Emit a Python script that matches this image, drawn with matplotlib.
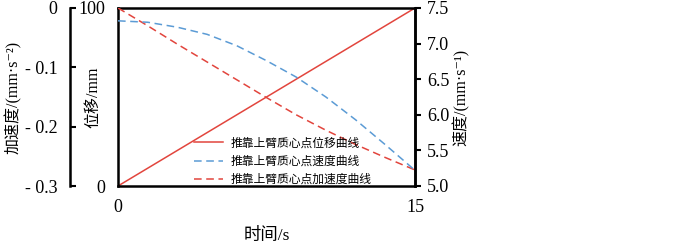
import numpy as np
import matplotlib.pyplot as plt
from matplotlib.lines import Line2D

plt.rcParams["font.family"] = ["Liberation Serif", "Noto Sans CJK SC", "DejaVu Serif"]
plt.rcParams["font.size"] = 13

# data
t_disp = [0, 15]
disp = [0, 100]

t = [0, 1.5, 3, 4.5, 6, 7.5, 9, 10.5, 12, 13.5, 15]
vel = [7.32, 7.30, 7.23, 7.13, 6.97, 6.76, 6.53, 6.25, 5.93, 5.58, 5.22]
acc = [0, -0.030, -0.061, -0.091, -0.121, -0.151, -0.180, -0.206, -0.230, -0.252, -0.273]

acc_ticks = [0, -0.1, -0.2, -0.3]
acc_labels = ["0", "- 0.1", "- 0.2", "- 0.3"]
vel_ticks = [5.0, 5.5, 6.0, 6.5, 7.0, 7.5]
labels = ["推靠上臂质心点位移曲线", "推靠上臂质心点速度曲线", "推靠上臂质心点加速度曲线"]

red = "#e2453d"
blue = "#5b9bd5"

fig = plt.figure(figsize=(7, 2.45), dpi=100)
ax = fig.add_axes([118/700, 1 - 186/245, 297/700, 178/245])

# position (main axis)
ax.plot(t_disp, disp, color=red, lw=1.1)
ax.set_xlim(0, 15)
ax.set_ylim(0, 100)
ax.set_xticks([0, 15])
ax.set_yticks([0, 100])
ax.tick_params(length=0, pad=9, labelsize=13)
for s in ax.spines.values():
    s.set_linewidth(1.8)
ax.set_xlabel("时间/s", fontsize=12.5)
ax.xaxis.set_label_coords(0.5, -0.235)
ax.set_ylabel("位移/mm", fontsize=11.5)
ax.yaxis.set_label_coords(-0.057, 0.5)

# acceleration axis, detached on the left
ax_acc = ax.twinx()
ax_acc.plot(t, acc, color=red, lw=1.1, dashes=(5, 3))
ax_acc.set_ylim(-0.3, 0)
ax_acc.spines["left"].set_position(("axes", -0.1616))
ax_acc.spines["left"].set_visible(True)
ax_acc.spines["left"].set_linewidth(1.8)
for k in ["right", "top", "bottom"]:
    ax_acc.spines[k].set_visible(False)
ax_acc.yaxis.set_ticks_position("left")
ax_acc.yaxis.set_label_position("left")
ax_acc.set_yticks(acc_ticks)
ax_acc.set_yticklabels(acc_labels)
ax_acc.tick_params(axis="y", direction="in", length=4, width=1.5, pad=9, labelsize=13)
ax_acc.set_ylabel("加速度/(mm·s⁻²)", fontsize=11.5)
ax_acc.yaxis.set_label_coords(-0.323, 0.5)

# velocity axis on the right
ax_vel = ax.twinx()
ax_vel.plot(t, vel, color=blue, lw=1.1, dashes=(5, 3))
ax_vel.set_ylim(5.0, 7.5)
ax_vel.set_yticks(vel_ticks)
ax_vel.set_yticklabels([f"{v:.1f}" for v in vel_ticks])
for k in ["left", "top", "bottom"]:
    ax_vel.spines[k].set_visible(False)
ax_vel.spines["right"].set_linewidth(1.8)
ax_vel.tick_params(axis="y", direction="out", length=4, width=1.5, pad=4.5, labelsize=13)
ax_vel.set_ylabel("速度/(mm·s⁻¹)", fontsize=11.5)
ax_vel.yaxis.set_label_coords(1.125, 0.5)

handles = [Line2D([], [], color=red, lw=1.1),
           Line2D([], [], color=blue, lw=1.1, dashes=(5, 3)),
           Line2D([], [], color=red, lw=1.1, dashes=(5, 3))]
ax_vel.legend(handles, labels, loc="lower left", bbox_to_anchor=(0.255, 0.0),
              frameon=False, handlelength=2.5, handletextpad=0.6,
              labelspacing=0.45, borderpad=0, borderaxespad=0,
              prop={"family": ["Noto Sans CJK SC"], "size": 8.5})

fig.savefig("out.png", dpi=100, facecolor="white")
